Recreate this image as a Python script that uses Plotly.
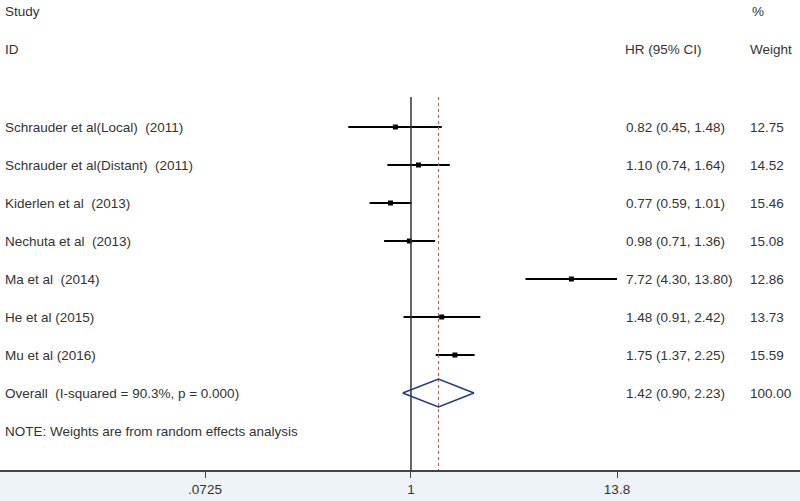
import math
import plotly.graph_objects as go

studies = ["Schrauder et al(Local)  (2011)", "Schrauder et al(Distant)  (2011)",
           "Kiderlen et al  (2013)", "Nechuta et al  (2013)", "Ma et al  (2014)",
           "He et al (2015)", "Mu et al (2016)"]
hr = [0.82, 1.10, 0.77, 0.98, 7.72, 1.48, 1.75]
lo = [0.45, 0.74, 0.59, 0.71, 4.30, 0.91, 1.37]
hi = [1.48, 1.64, 1.01, 1.36, 13.80, 2.42, 2.25]
weights = [12.75, 14.52, 15.46, 15.08, 12.86, 13.73, 15.59]
overall_label = "Overall  (I-squared = 90.3%, p = 0.000)"
overall = (1.42, 0.90, 2.23)
overall_weight = 100.00
note = "NOTE: Weights are from random effects analysis"
tick_vals = [0.0725, 1, 13.8]
tick_text = [".0725", "1", "13.8"]

FONT = "Liberation Sans, Arial, sans-serif"
FS = 13.5
TXT = "#333333"
rows = list(range(len(studies)))
ov_row = len(studies)
note_row = ov_row + 1
y_top = -127 / 38
y_bot = (470 - 127) / 38

fig = go.Figure()

# CI lines
for i in rows:
    fig.add_trace(go.Scatter(x=[lo[i], hi[i]], y=[i, i], mode="lines",
                             line=dict(color="black", width=2), hoverinfo="skip",
                             showlegend=False))
# point estimates
fig.add_trace(go.Scatter(x=hr, y=rows, mode="markers",
                         marker=dict(symbol="square", size=5, color="black"),
                         showlegend=False))

# reference lines
line_top = (97 - 127) / 38
fig.add_trace(go.Scatter(x=[1, 1], y=[line_top, y_bot], mode="lines",
                         line=dict(color="#333333", width=1.5), showlegend=False,
                         hoverinfo="skip"))
fig.add_trace(go.Scatter(x=[overall[0], overall[0]], y=[line_top, y_bot], mode="lines",
                         line=dict(color="#d9534f", width=1, dash="dot"), showlegend=False,
                         hoverinfo="skip"))

# diamond
h = 0.37
fig.add_trace(go.Scatter(x=[overall[1], overall[0], overall[2], overall[0], overall[1]],
                         y=[ov_row, ov_row - h, ov_row, ov_row + h, ov_row],
                         mode="lines", line=dict(color="#1f3a8a", width=1.5),
                         showlegend=False, hoverinfo="skip"))

ann = []
def txt(xp, y, s):
    ann.append(dict(x=xp, xref="paper", y=y, yref="y", text=s, showarrow=False,
                    xanchor="left", yanchor="middle", borderpad=0,
                    font=dict(family=FONT, size=FS, color=TXT)))

txt(4 / 800, (11 - 127) / 38, "Study")
txt(4 / 800, (49 - 127) / 38, "ID")
txt(624 / 800, (49 - 127) / 38, "HR (95% CI)")
txt(751 / 800, (11 - 127) / 38, "%")
txt(749 / 800, (49 - 127) / 38, "Weight")
for i in rows:
    txt(4 / 800, i, studies[i])
    txt(625 / 800, i, f"{hr[i]:.2f} ({lo[i]:.2f}, {hi[i]:.2f})")
    txt(749 / 800, i, f"{weights[i]:.2f}")
txt(4 / 800, ov_row, overall_label)
txt(625 / 800, ov_row, f"{overall[0]:.2f} ({overall[1]:.2f}, {overall[2]:.2f})")
txt(749 / 800, ov_row, f"{overall_weight:.2f}")
txt(4 / 800, note_row, note)

# x range so that .0725 at px 205 and 13.8 at px 617
a = math.log10(0.0725)
b = math.log10(13.8)
per_px = (b - a) / (617 - 205)
xr = [a - 205 * per_px, b + (800 - 617) * per_px]

fig.update_layout(
    width=800, height=501,
    margin=dict(l=0, r=0, t=0, b=31),
    paper_bgcolor="#eef3f7", plot_bgcolor="white",
    annotations=ann,
    xaxis=dict(type="log", range=xr, tickvals=tick_vals, ticktext=tick_text,
               showgrid=False, zeroline=False, showline=True, linecolor="#444444",
               linewidth=1.5, ticks="outside", ticklen=6, tickcolor="#444444",
               tickfont=dict(family=FONT, size=FS, color=TXT), fixedrange=True),
    yaxis=dict(range=[y_bot, y_top], showgrid=False, zeroline=False,
               showticklabels=False, showline=False, fixedrange=True),
    showlegend=False,
)

fig.write_html("out.html", config={"displayModeBar": False},
               post_script="document.body.style.margin='0';document.body.style.overflow='hidden';")
